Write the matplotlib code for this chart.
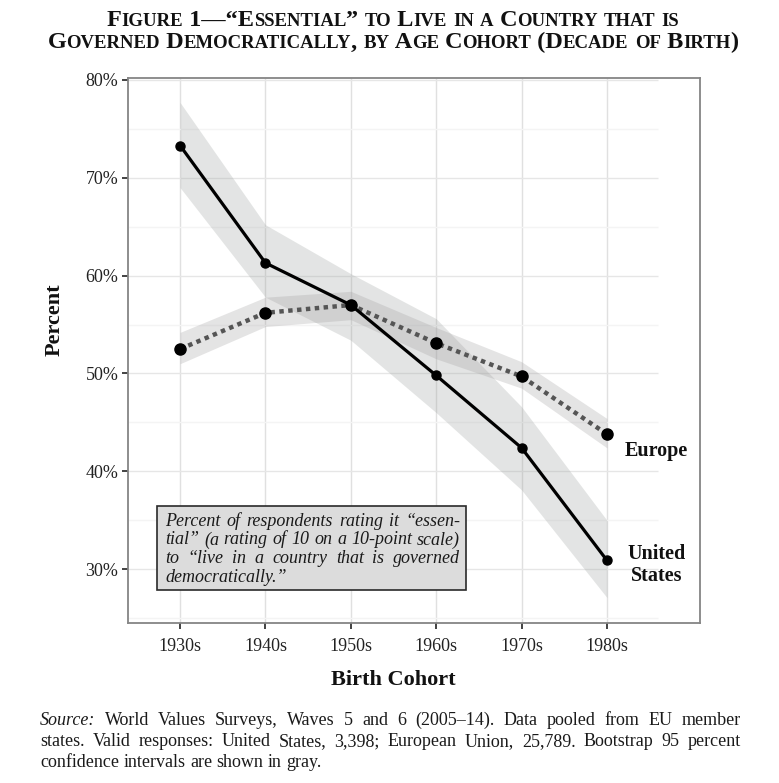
import matplotlib.pyplot as plt
from matplotlib.transforms import IdentityTransform
from matplotlib.patches import Rectangle

# values (percent rating it "essential")
cohorts = ['1930s', '1940s', '1950s', '1960s', '1970s', '1980s']
us = [73.3, 61.3, 57.0, 49.8, 42.4, 30.9]
us_lo = [69.0, 57.8, 53.4, 46.0, 38.1, 27.1]
us_hi = [77.7, 65.2, 60.2, 55.6, 46.6, 35.0]
eu = [52.5, 56.2, 57.0, 53.1, 49.7, 43.8]
eu_lo = [51.0, 54.8, 55.5, 51.5, 48.5, 42.4]
eu_hi = [54.2, 57.8, 58.4, 54.7, 51.2, 45.4]
yticks = [30, 40, 50, 60, 70, 80]
yminor = [25, 35, 45, 55, 65, 75]

title_lines = ['Figure 1—“Essential” to Live in a Country that is',
               'Governed Democratically, by Age Cohort (Decade of Birth)']
note_lines = ['Percent of respondents rating it “essen-',
              'tial” (a rating of 10 on a 10-point scale)',
              'to “live in a country that is governed',
              'democratically.”']
source_lines = ['Source: World Values Surveys, Waves 5 and 6 (2005–14). Data pooled from EU member',
                'states. Valid responses: United States, 3,398; European Union, 25,789. Bootstrap 95 percent',
                'confidence intervals are shown in gray.']

SERIF = 'Liberation Serif'
W, H = 779, 783
fig = plt.figure(figsize=(W / 100, H / 100), dpi=100)
r = fig.canvas.get_renderer()


def text_width(s, **kw):
    t = fig.text(0, 0, '|' + s + '|', family=SERIF, **kw)
    w1 = t.get_window_extent(r).width
    t.set_text('||')
    w2 = t.get_window_extent(r).width
    t.remove()
    return w1 - w2


def put(x, y, s, **kw):
    fig.text(x, H - y, s, transform=IdentityTransform(), family=SERIF,
             ha='left', va='baseline', **kw)


def justify(words, x0, x1, y, stretch=True):
    widths = [text_width(w, **kw) for w, kw in words]
    if stretch and len(words) > 1:
        gap = (x1 - x0 - sum(widths)) / (len(words) - 1)
    else:
        gap = text_width(' ', **words[0][1])
    x = x0
    for (w, kw), wd in zip(words, widths):
        put(x, y, w, **kw)
        x += wd + gap


def small_caps(line, cx, y, big, small):
    runs = []
    for ch in line:
        low = ch.islower()
        c = ch.upper() if low else ch
        if runs and runs[-1][1] == low:
            runs[-1][0] += c
        else:
            runs.append([c, low])
    sizes = [small if low else big for _, low in runs]
    widths = [text_width(s, size=sz, weight='bold') for (s, _), sz in zip(runs, sizes)]
    x = cx - sum(widths) / 2
    for (s, _), sz, wd in zip(runs, sizes, widths):
        put(x, y, s, size=sz, weight='bold', color='#111111')
        x += wd


# axes
ax = fig.add_axes([128 / W, 1 - 623 / H, (700 - 128) / W, (623 - 78) / H])
xs = list(range(len(cohorts)))
ax.set_xlim(-0.61, 6.09)
ax.set_ylim(24.5, 80.2)

ax.vlines(xs, 24.5, 80.2, color='#e0e0e0', lw=1, zorder=0)
ax.hlines(yticks, -0.61, 5.6, color='#e6e6e6', lw=1, zorder=0)
ax.hlines(yminor, -0.61, 5.6, color='#f4f4f4', lw=1, zorder=0)

ax.fill_between(xs, us_lo, us_hi, color='#9ca19f', alpha=0.28, lw=0, zorder=1)
ax.fill_between(xs, eu_lo, eu_hi, color='#a09e9f', alpha=0.28, lw=0, zorder=1)

ax.plot(xs, eu, color='#555555', lw=3.2, linestyle=(0, (1, 1)),
        dash_capstyle='butt', zorder=3)
ax.plot(xs, eu, 'o', color='black', ms=8, zorder=5)
ax.plot(xs, us, color='black', lw=2.3, marker='o', ms=6.5, zorder=4)

ax.set_xticks(xs)
ax.set_xticklabels(cohorts, family=SERIF, size=13, color='#222222')
ax.set_yticks(yticks)
ax.set_yticklabels([f'{v}%' for v in yticks], family=SERIF, size=13, color='#222222')
ax.tick_params(axis='both', direction='out', length=4, width=1.2, color='#222222')
ax.tick_params(axis='x', pad=7)
ax.tick_params(axis='y', pad=3)
for sp in ax.spines.values():
    sp.set_color('#858585')
    sp.set_linewidth(1.3)

ax.text(5.58, 42.1, 'Europe', family=SERIF, weight='bold', size=14.5,
        ha='center', va='center', color='#111111')
ax.text(5.58, 30.4, 'United\nStates', family=SERIF, weight='bold', size=14.5,
        ha='center', va='center', linespacing=1.15, color='#111111')

ax.add_patch(Rectangle((-0.27, 27.85), 3.62, 8.59, facecolor='#dcdcdc',
                       edgecolor='#2a2a2a', lw=1.2, zorder=6))

# title and labels
small_caps(title_lines[0], 393, 26, 17.5, 13.5)
small_caps(title_lines[1], 393, 48, 17.5, 13.5)
fig.text(55 / W, 1 - 320 / H, 'Percent', family=SERIF, weight='bold', size=16,
         rotation=90, ha='center', va='center', color='#111111')
fig.text(393 / W, 1 - 680 / H, 'Birth Cohort', family=SERIF, weight='bold', size=16,
         ha='center', va='center', color='#111111')

# boxed note, justified italic
note_style = dict(size=13, style='italic', color='#1a1a1a')
for i, line in enumerate(note_lines):
    words = [(w, note_style) for w in line.split(' ')]
    justify(words, 165, 460, 526 + i * 18.5, stretch=i < len(note_lines) - 1)

# source note
plain = dict(size=13, color='#1a1a1a')
for i, line in enumerate(source_lines):
    words = []
    for w in line.split(' '):
        words.append((w, dict(plain, style='italic') if w == 'Source:' else plain))
    justify(words, 40, 741, 725 + i * 21, stretch=i < len(source_lines) - 1)

fig.savefig('out.png', dpi=100)
